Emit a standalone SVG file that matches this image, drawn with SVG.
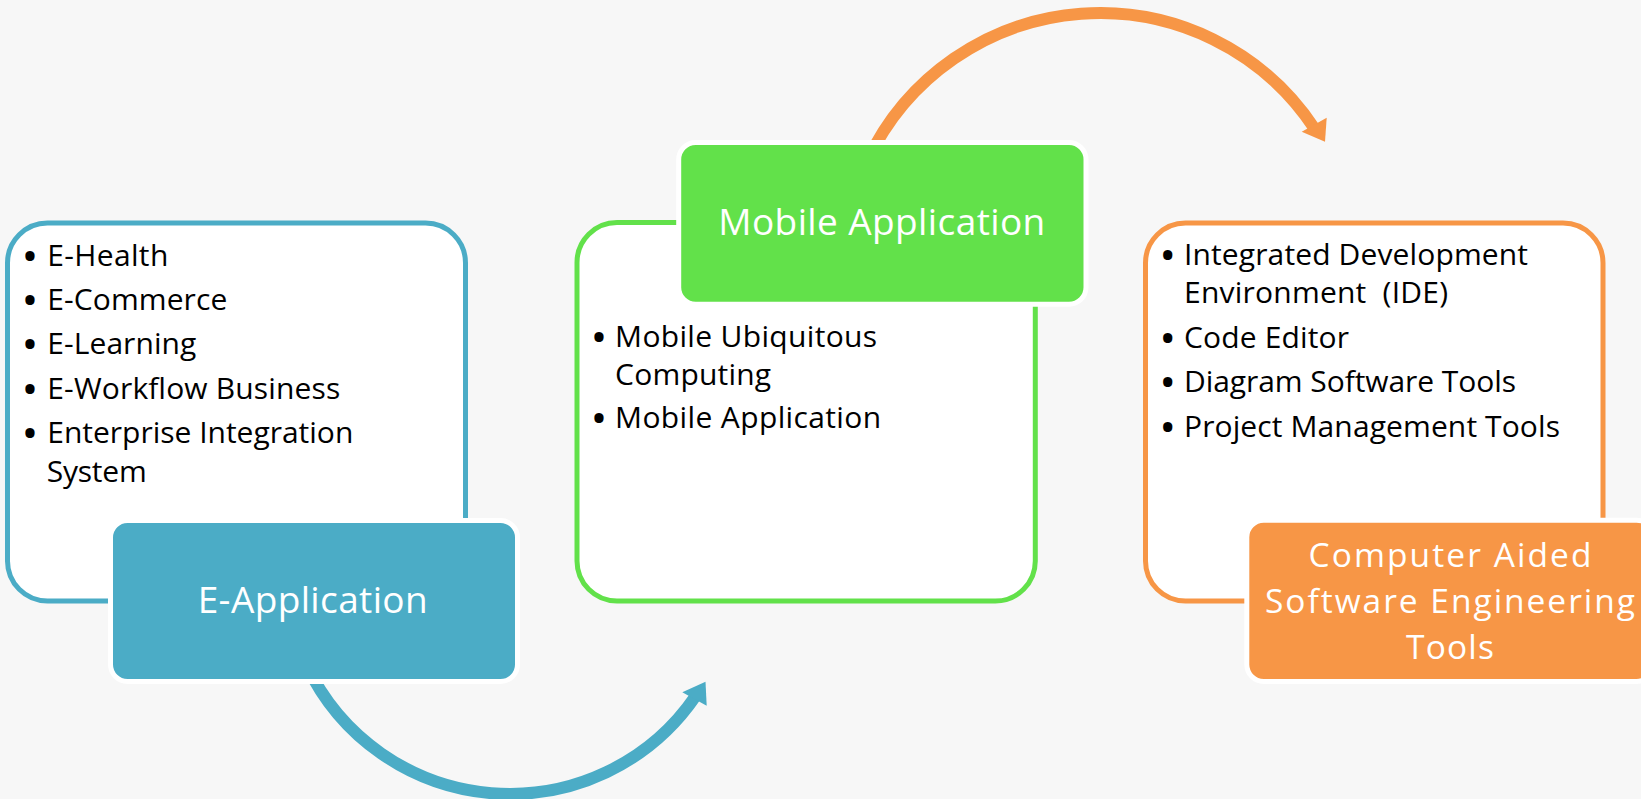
<svg xmlns="http://www.w3.org/2000/svg" width="1641" height="799" viewBox="0 0 1641 799">
  <style>
    .outline { fill: #FFFFFF; stroke-width: 5; }
    .head { stroke: #FFFFFF; stroke-width: 5; }
    .item { font-family: "Open Sans", "Noto Sans", sans-serif; font-size: 30px; fill: #000000; }
    .dot { font-size: 33px; font-weight: 700; text-anchor: middle; }
    .label { font-family: "Open Sans", "Noto Sans", sans-serif; font-size: 37px; fill: #FFFFFF; text-anchor: middle; }
    .label.multi { font-size: 33.5px; }
    .arc { fill: none; stroke-width: 12; }
    .blue { stroke: #4BACC6; }
    .green { stroke: #62E14A; }
    .orange { stroke: #F79646; }
  </style>

  <rect x="0" y="0" width="1641" height="799" fill="#F7F7F7"/>

  <!-- curved arrows between the stages (drawn first so the heading boxes cover their tails) -->
  <g id="connectors">
    <path class="arc blue" d="M 306.1 664.1 A 225 225 0 0 0 695.4 696.4"/>
    <polygon points="705.5,681.7 682.3,692.3 706.7,705.7" fill="#4BACC6"/>
    <path class="arc orange" d="M 867.1 161.4 A 257 257 0 0 1 1314.3 128.2"/>
    <polygon points="1325,141.7 1301.7,131.7 1326.7,117.7" fill="#F79646"/>
  </g>

  <!-- stage 1 -->
  <g id="e-application">
    <rect class="outline blue" x="7.5" y="223" width="458" height="378" rx="40"/>
    <text class="item" y="265.7"><tspan class="dot" x="30" dy="2">•</tspan><tspan x="47.3" dy="-2" textLength="121">E-Health</tspan></text>
    <text class="item" y="310"><tspan class="dot" x="30" dy="2">•</tspan><tspan x="47.3" dy="-2" textLength="180">E-Commerce</tspan></text>
    <text class="item" y="354.3"><tspan class="dot" x="30" dy="2">•</tspan><tspan x="47.3" dy="-2" textLength="149">E-Learning</tspan></text>
    <text class="item" y="399"><tspan class="dot" x="30" dy="2">•</tspan><tspan x="47.3" dy="-2" textLength="293">E-Workflow Business</tspan></text>
    <text class="item" y="443.3"><tspan class="dot" x="30" dy="2">•</tspan><tspan x="47.3" dy="-2" textLength="306">Enterprise Integration</tspan></text>
    <text class="item" x="46.7" y="481.7" textLength="100">System</text>
    <rect class="head" x="110.5" y="520.5" width="407" height="161" rx="17" fill="#4BACC6"/>
    <text class="label" x="312.7" y="612.7" textLength="230">E-Application</text>
  </g>

  <!-- stage 2 -->
  <g id="mobile-application">
    <rect class="outline green" x="577" y="222.5" width="458.3" height="378.5" rx="40"/>
    <text class="item" y="346.7"><tspan class="dot" x="598.9" dy="2">•</tspan><tspan x="615.1" dy="-2" textLength="262">Mobile Ubiquitous</tspan></text>
    <text class="item" x="615.1" y="385" textLength="156">Computing</text>
    <text class="item" y="428.3"><tspan class="dot" x="598.9" dy="2">•</tspan><tspan x="615.1" dy="-2" textLength="266">Mobile Application</tspan></text>
    <rect class="head" x="678.7" y="142.5" width="407.3" height="161.7" rx="17" fill="#62E14A"/>
    <text class="label" x="881.8" y="235" textLength="327">Mobile Application</text>
  </g>

  <!-- stage 3 -->
  <g id="case-tools">
    <rect class="outline orange" x="1145.5" y="223" width="457.5" height="378" rx="40"/>
    <text class="item" y="265"><tspan class="dot" x="1167.7" dy="2">•</tspan><tspan x="1184" dy="-2" textLength="344">Integrated Development</tspan></text>
    <text class="item" x="1184" y="303.3" textLength="264" xml:space="preserve">Environment  (IDE)</text>
    <text class="item" y="347.7"><tspan class="dot" x="1167.7" dy="2">•</tspan><tspan x="1184" dy="-2" textLength="165">Code Editor</tspan></text>
    <text class="item" y="392.3"><tspan class="dot" x="1167.7" dy="2">•</tspan><tspan x="1184" dy="-2" textLength="332">Diagram Software Tools</tspan></text>
    <text class="item" y="436.7"><tspan class="dot" x="1167.7" dy="2">•</tspan><tspan x="1184" dy="-2" textLength="376">Project Management Tools</tspan></text>
    <rect class="head" x="1246.8" y="520.2" width="406.7" height="161.3" rx="17" fill="#F79646"/>
    <text class="label multi" x="1450" y="566.5" textLength="283">Computer Aided</text>
    <text class="label multi" x="1450" y="612.5" textLength="370">Software Engineering</text>
    <text class="label multi" x="1450" y="658.5" textLength="88">Tools</text>
  </g>
</svg>
